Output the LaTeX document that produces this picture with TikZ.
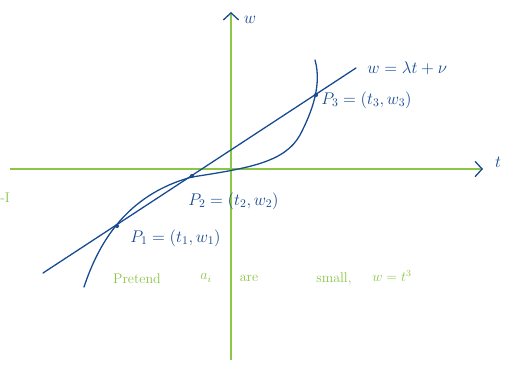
\documentclass[tikz,border=0pt]{standalone}
\usetikzlibrary{arrows.meta,positioning}

\definecolor{ink}{RGB}{22,74,145}
\definecolor{chalk}{RGB}{139,198,70}

\tikzset{
    axis/.style={chalk,line width=1.6pt,-{Straight Barb[color=ink,length=6pt,width=13pt,line width=1.1pt]}},
    pen/.style={ink,line width=1.1pt,line cap=round},
    dot/.style={circle,fill=ink,inner sep=0pt,minimum size=3.5pt},
    lab/.style={ink,font=\Large,inner sep=1pt},
    note/.style={chalk,font=\large,inner sep=1pt}
}

\begin{document}
\begin{tikzpicture}[x=0.03cm,y=-0.03cm]

    \useasboundingbox (0,0) rectangle (516,368);

    % AXES
    \coordinate (tleft) at (10,169);
    \coordinate (tright) at (483,169);
    \coordinate (wbot) at (231,360);
    \coordinate (wtop) at (231,12);
    \draw[axis] (tleft) to (tright);
    \draw[axis] (wbot) to (wtop);
    \node[lab] (tname) at (498,162) {$t$};
    \node[lab] (wname) at (250,20) {$w$};
    \node[note,anchor=west] (tick) at (-1,198) {-I};

    % LINE
    \coordinate (lstart) at (43,273);
    \coordinate (lend) at (356,68);
    \draw[pen] (lstart) to (lend);
    \node[lab,anchor=west] (leq) at (366,68) {$w=\lambda t+\nu$};

    % CUBIC
    \draw[pen] (84,287) .. controls (98,245) and (125,195) .. (192,177)
        .. controls (250,168) and (285,162) .. (300,135)
        .. controls (312,112) and (322,85) .. (315,60);

    % POINTS
    \node[dot] (p1) at (117,226) {};
    \node[dot] (p2) at (192,176) {};
    \node[dot] (p3) at (316,95) {};
    \node[lab,anchor=west] (p1lab) at (129,238) {$P_1=(t_1,w_1)$};
    \node[lab,anchor=west] (p2lab) at (187,201) {$P_2=(t_2,w_2)$};
    \node[lab,anchor=west] (p3lab) at (320,100) {$P_3=(t_3,w_3)$};

    % NOTE
    \node[note] (n1) at (137,279) {Pretend};
    \node[note] (n2) at (206,278) {$a_i$};
    \node[note] (n3) at (249,278) {are};
    \node[note] (n4) at (334,279) {small,};
    \node[note] (n5) at (392,276) {$w=t^3$};

\end{tikzpicture}
\end{document}
